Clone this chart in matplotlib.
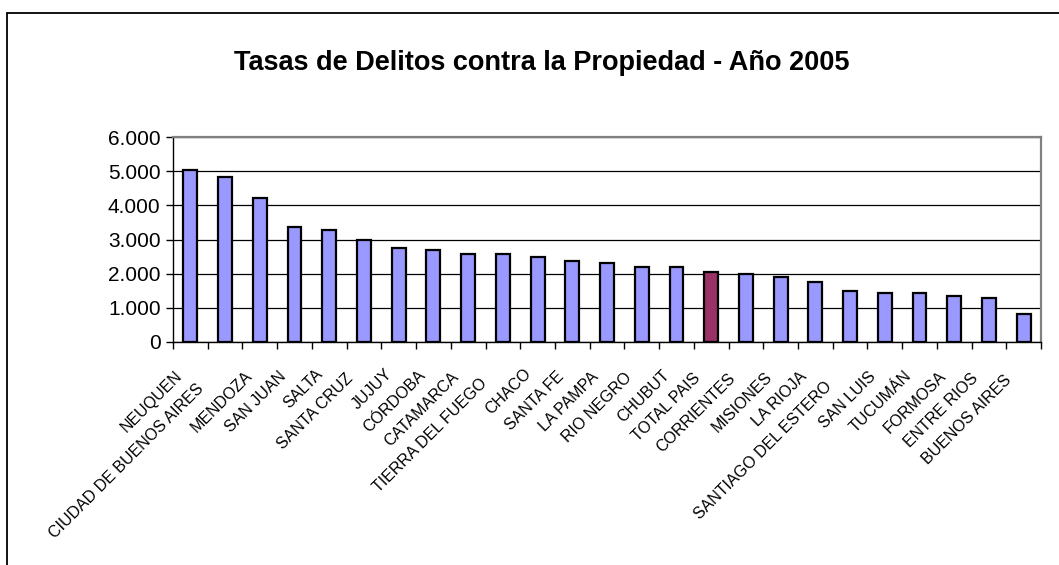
import matplotlib
matplotlib.use("Agg")
import matplotlib.pyplot as plt
from matplotlib.patches import Rectangle
from matplotlib.ticker import FuncFormatter, FixedLocator
from matplotlib.transforms import ScaledTranslation

plt.rcParams['font.family'] = ['Liberation Sans', 'DejaVu Sans']

provincias = ["NEUQUEN", "CIUDAD DE BUENOS AIRES", "MENDOZA", "SAN JUAN", "SALTA",
              "SANTA CRUZ", "JUJUY", "CÓRDOBA", "CATAMARCA", "TIERRA DEL FUEGO",
              "CHACO", "SANTA FE", "LA PAMPA", "RIO NEGRO", "CHUBUT", "TOTAL PAIS",
              "CORRIENTES", "MISIONES", "LA RIOJA", "SANTIAGO DEL ESTERO", "SAN LUIS",
              "TUCUMÁN", "FORMOSA", "ENTRE RIOS", "BUENOS AIRES"]
tasas = [5040, 4830, 4210, 3380, 3280, 2995, 2740, 2690, 2565, 2565,
         2500, 2380, 2300, 2190, 2190, 2035, 1980, 1900, 1770, 1490,
         1440, 1420, 1340, 1300, 830]
destacado = "TOTAL PAIS"

colores = ["#993366" if p == destacado else "#9999FF" for p in provincias]

fig = plt.figure(figsize=(10.59, 5.65), dpi=100)
ax = fig.add_axes([0.1634, 0.3947, 0.8196, 0.3628])

x = list(range(len(provincias)))
ax.bar(x, tasas, width=0.4, color=colores, edgecolor="black", linewidth=1.6, zorder=3)

ax.set_xlim(-0.5, len(provincias) - 0.5)
ax.set_ylim(0, 6000)
ax.set_yticks(range(0, 6001, 1000))
ax.yaxis.set_major_formatter(FuncFormatter(lambda v, p: f"{int(v):,}".replace(",", ".")))
ax.grid(axis="y", color="black", linewidth=0.9, zorder=1)

for s in ["left", "bottom"]:
    ax.spines[s].set_color("black")
    ax.spines[s].set_linewidth(1.0)
for s in ["top", "right"]:
    ax.spines[s].set_color("#808080")
    ax.spines[s].set_linewidth(1.6)

ax.tick_params(axis="y", direction="out", length=5, width=1, labelsize=15, pad=4)
ax.xaxis.set_minor_locator(FixedLocator([i - 0.5 for i in range(len(provincias) + 1)]))
ax.tick_params(axis="x", which="minor", direction="out", length=5, width=1)
ax.tick_params(axis="x", which="major", length=0, pad=18)
ax.set_xticks(x)
ax.set_xticklabels(provincias, rotation=45, ha="right", va="center",
                   rotation_mode="anchor", fontsize=11.5,
                   family=['Liberation Sans Narrow', 'Liberation Sans', 'DejaVu Sans'])
# etiquetas largas quedan un poco mas abajo, como en el original
for lab in ax.get_xticklabels():
    n = len(lab.get_text())
    d = (4 + 0.9 * n) / 100
    lab.set_transform(lab.get_transform() + ScaledTranslation(-d, -d + 0.04, fig.dpi_scale_trans))

fig.text(0.512, 0.888, "Tasas de Delitos contra la Propiedad - Año 2005",
         ha="center", va="center", fontsize=19.5, fontweight="bold")

fig.patches.append(Rectangle((7 / 1059, -0.05), 1.1, 1 - 13 / 565 + 0.05,
                             transform=fig.transFigure, fill=False,
                             edgecolor="black", linewidth=1.3, clip_on=False))

fig.savefig("out.png", dpi=100)
